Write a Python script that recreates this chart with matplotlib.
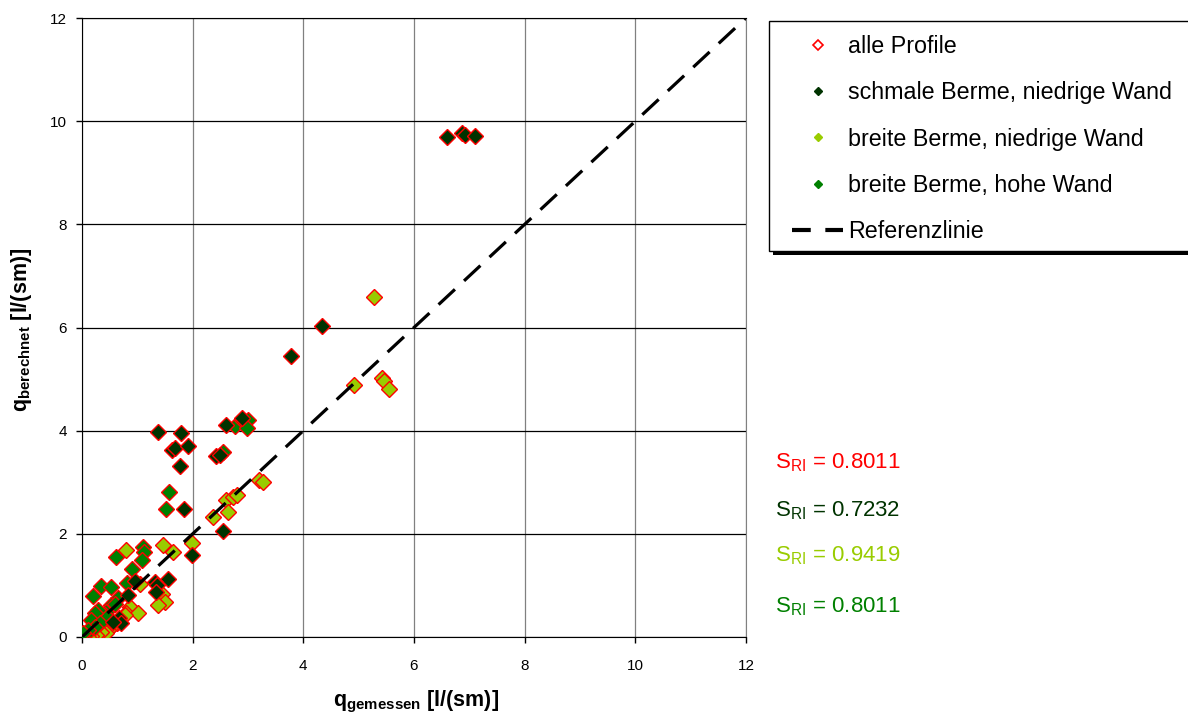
import numpy as np
import matplotlib.pyplot as plt
from matplotlib.lines import Line2D
from matplotlib.patches import Rectangle

plt.rcParams['font.family'] = ['Liberation Sans', 'DejaVu Sans']
plt.rcParams['mathtext.fontset'] = 'custom'
plt.rcParams['mathtext.rm'] = 'Liberation Sans'
plt.rcParams['mathtext.bf'] = 'Liberation Sans:bold'

# schmale Berme, niedrige Wand
schmal_x = [6.60, 6.86, 6.92, 7.10, 4.33, 3.78, 1.38, 1.79, 1.62, 1.68, 1.92, 1.77, 1.85,
            2.60, 2.90, 2.43, 2.49, 2.55, 1.98, 0.95, 1.56, 1.32, 1.35, 1.34, 0.83, 0.66,
            0.71, 0.56]
schmal_y = [9.69, 9.77, 9.73, 9.71, 6.02, 5.45, 3.97, 3.95, 3.62, 3.67, 3.70, 3.32, 2.48,
            4.11, 4.24, 3.50, 3.53, 2.05, 1.58, 1.09, 1.12, 1.07, 1.01, 0.88, 0.81, 0.36,
            0.28, 0.30]

# breite Berme, niedrige Wand
breit_nied_x = [5.27, 4.92, 5.42, 5.45, 5.55, 3.20, 3.28, 2.61, 2.73, 2.80, 2.64, 2.37,
                1.98, 1.46, 1.65, 0.79, 1.05, 1.45, 1.50, 1.38, 0.86, 0.80, 1.01, 0.77,
                0.64, 0.53, 0.47, 0.44, 0.35, 0.26, 0.17, 0.35, 0.11]
breit_nied_y = [6.60, 4.89, 5.02, 4.96, 4.80, 3.05, 3.01, 2.66, 2.72, 2.75, 2.43, 2.32,
                1.82, 1.78, 1.64, 1.68, 1.03, 0.84, 0.67, 0.62, 0.59, 0.47, 0.46, 0.43,
                0.28, 0.20, 0.14, 0.07, 0.10, 0.04, 0.01, 0.33, 0.00]

# breite Berme, hohe Wand
breit_hoch_x = [2.77, 2.89, 3.00, 2.98, 2.55, 1.57, 1.52, 1.11, 1.12, 1.08, 0.61, 0.90,
                0.81, 0.35, 0.53, 0.20, 0.65, 0.53, 0.59, 0.44, 0.41, 0.29, 0.23, 0.17,
                0.32, 0.23, 0.11, 0.05, 0.00, 0.02]
breit_hoch_y = [4.09, 4.21, 4.21, 4.05, 3.58, 2.81, 2.48, 1.75, 1.65, 1.49, 1.56, 1.32,
                1.05, 0.99, 0.96, 0.79, 0.75, 0.62, 0.64, 0.49, 0.43, 0.52, 0.46, 0.33,
                0.27, 0.20, 0.14, 0.04, 0.00, 0.07]

ref_x = [0, 12]
ref_y = [0, 12]

sri_labels = ['0.8011', '0.7232', '0.9419', '0.8011']

c_red = '#ff0000'
c_dark = '#003300'
c_light = '#99cc00'
c_green = '#008000'

W, H = 1188, 717
fig = plt.figure(figsize=(W / 100, H / 100), dpi=100)
ax = fig.add_axes([82 / W, 1 - 637 / H, 664 / W, 619 / H])

ms = 8.5
series = [(breit_nied_x, breit_nied_y, c_light),
          (breit_hoch_x, breit_hoch_y, c_green),
          (schmal_x, schmal_y, c_dark)]
for xs, ys, col in series:
    ax.plot(xs, ys, 'D', ms=ms, mfc=col, mec=c_red, mew=1.0, ls='none', zorder=3)

ax.plot(ref_x, ref_y, color='black', lw=2.3, dashes=[7, 3.9], zorder=4)

ax.set_xlim(0, 12)
ax.set_ylim(0, 12)
ax.set_xticks(range(0, 13, 2))
ax.set_yticks(range(0, 13, 2))
ax.tick_params(labelsize=11, length=4, width=1, color='black')
ax.tick_params(axis='x', pad=12)
ax.tick_params(axis='y', pad=7)
ax.grid(axis='y', color='black', lw=0.9)
ax.grid(axis='x', color='#808080', lw=0.9)
ax.set_axisbelow(True)
for s in ['left', 'bottom', 'top']:
    ax.spines[s].set_color('black')
ax.spines['right'].set_color('#808080')

ax.set_xlabel(r'$\mathbf{q_{gemessen}}$ [l/(sm)]', fontsize=15.5, fontweight='bold')
ax.set_ylabel(r'$\mathbf{q_{berechnet}}$ [l/(sm)]', fontsize=15.5, fontweight='bold')
ax.xaxis.set_label_coords(0.503, (637 - 689) / 619)
ax.yaxis.set_label_coords(-0.072, 0.497)

# legend box with black drop shadow
fig.patches.append(Rectangle((773 / W, 1 - 255 / H), 500 / W, 230 / H, transform=fig.transFigure,
                             facecolor='black', edgecolor='none', zorder=1))
fig.patches.append(Rectangle((769 / W, 1 - 251 / H), 500 / W, 230 / H, transform=fig.transFigure,
                             facecolor='white', edgecolor='black', lw=1, zorder=2))

handles = [
    Line2D([], [], marker='D', ls='none', ms=5.5, mfc='white', mec=c_red, mew=1.2),
    Line2D([], [], marker='D', ls='none', ms=4.5, mfc=c_dark, mec=c_dark),
    Line2D([], [], marker='D', ls='none', ms=4.5, mfc=c_light, mec=c_light),
    Line2D([], [], marker='D', ls='none', ms=4.5, mfc=c_green, mec=c_green),
    Line2D([], [], color='black', lw=3, dashes=[4.5, 3.5]),
]
labels = ['alle Profile', 'schmale Berme, niedrige Wand', 'breite Berme, niedrige Wand',
          'breite Berme, hohe Wand', 'Referenzlinie']
leg = fig.legend(handles, labels, loc='upper left', bbox_to_anchor=(792 / W, 1 - 35 / H),
                 fontsize=16.75, frameon=False,
                 handlelength=2.2, handletextpad=0.21, labelspacing=1.0, borderpad=0,
                 borderaxespad=0)
leg.set_zorder(5)

sri_colors = [c_red, c_dark, c_light, c_green]
sri_y = [463, 511, 556, 607]
for lab, col, yy in zip(sri_labels, sri_colors, sri_y):
    fig.text(775 / W, 1 - yy / H, r'S$_{\mathrm{RI}}$ = ' + lab, color=col,
             fontsize=16, va='center', ha='left')

fig.savefig('out.png', dpi=100)
